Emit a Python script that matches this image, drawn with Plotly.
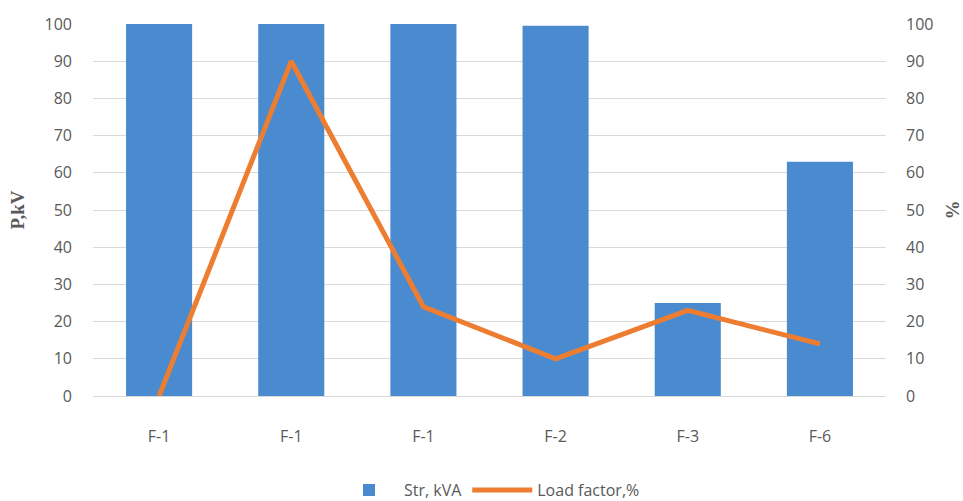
import plotly.graph_objects as go

# Feeder labels (repeated names kept in order) and series values
feeders = ["F-1", "F-1", "F-1", "F-2", "F-3", "F-6"]
str_kva = [160, 250, 160, 99.5, 25, 63]
load_factor = [0, 90, 24, 10, 23, 14]

positions = list(range(len(feeders)))
grey = "#595959"
tick_font = dict(family="Open Sans, Lato, sans-serif", size=16, color=grey)

fig = go.Figure()
fig.add_trace(go.Bar(
    x=positions, y=str_kva, name="Str, kVA",
    marker=dict(color="#4A8BD0", line=dict(width=0)),
    width=0.5,
))
fig.add_trace(go.Scatter(
    x=positions, y=load_factor, name="Load factor,%", yaxis="y2",
    mode="lines", line=dict(color="#ED7D31", width=5),
))

fig.update_layout(
    width=963, height=501,
    margin=dict(l=93, r=77, t=24, b=105, autoexpand=False),
    paper_bgcolor="white", plot_bgcolor="white",
    showlegend=True,
    legend=dict(orientation="h", x=0.5, xanchor="center", y=-0.253, yanchor="middle",
                font=dict(family="Open Sans, Lato, sans-serif", size=16, color=grey),
                itemwidth=60, traceorder="normal"),
    xaxis=dict(
        tickmode="array", tickvals=positions, ticktext=feeders,
        range=[-0.5, len(feeders) - 0.5],
        showgrid=False, zeroline=False, automargin=False,
        showline=True, linecolor="#D9D9D9", linewidth=1,
        ticks="", tickfont=tick_font, ticklabelstandoff=26,
    ),
    yaxis=dict(
        range=[0, 100], dtick=10, showgrid=True, gridcolor="#D9D9D9", gridwidth=1,
        zeroline=False, ticks="", tickfont=tick_font, ticklabelstandoff=20,
        automargin=False,
        title=dict(text="P,kV", standoff=14,
                   font=dict(family="Liberation Serif, DejaVu Serif, serif",
                             size=19, color=grey, weight="bold")),
    ),
    yaxis2=dict(
        range=[0, 100], dtick=10, overlaying="y", side="right",
        showgrid=False, zeroline=False, ticks="", tickfont=tick_font,
        ticklabelstandoff=19, automargin=False,
        title=dict(text="%", standoff=20,
                   font=dict(family="Liberation Serif, DejaVu Serif, serif",
                             size=19, color=grey, weight="bold")),
    ),
    bargap=0.5,
)

fig.write_html("out.html")
